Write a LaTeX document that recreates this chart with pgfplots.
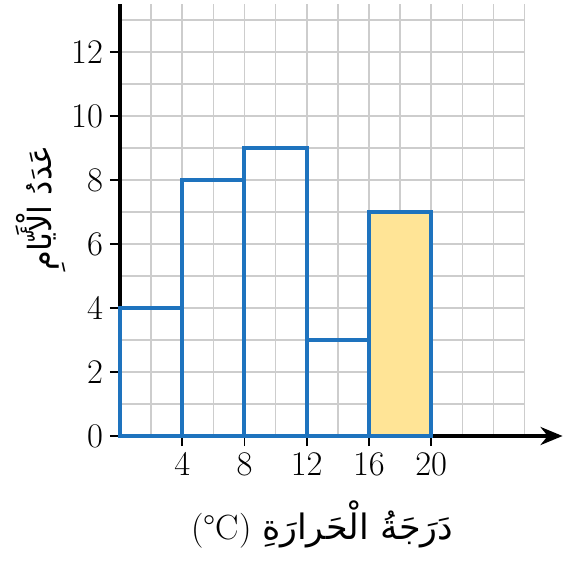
\documentclass[border=0pt]{standalone}
\usepackage{pgfplots}
\pgfplotsset{compat=1.18}
\usepackage{fontspec}
\usetikzlibrary{arrows.meta}
\TeXXeTstate=1
\newfontfamily\arabicfont[Script=Arabic]{DejaVu Sans}
\definecolor{barblue}{RGB}{30,115,190}
\definecolor{baryellow}{RGB}{255,228,150}
\definecolor{gridgray}{RGB}{205,205,205}
\begin{document}
\begin{tikzpicture}
\begin{axis}[
  anchor=origin, at={(0,0)},
  x=7.78pt, y=16pt,
  xmin=0, xmax=26, ymin=0, ymax=13.5,
  clip=false,
  axis x line*=bottom, axis y line*=left,
  x axis line style={line width=1.7pt, -{Stealth[length=11pt,width=9pt]}, shorten >=-19pt},
  y axis line style={line width=1.7pt},
  xtick={4,8,12,16,20}, ytick={0,2,...,12},
  minor xtick={0,2,...,26}, minor ytick={0,1,...,13},
  grid=minor, minor grid style={gridgray, line width=0.8pt},
  minor tick length=0pt,
  major tick length=5pt,
  tick align=outside,
  tick style={black, line width=0.8pt},
  tick label style={font=\fontsize{16.5}{16.5}\selectfont},
  xlabel={\fontsize{17.5}{19}\selectfont (°C) {\arabicfont\beginR دَرَجَةُ الْحَرارَةِ\endR}},
  xlabel style={yshift=-6pt},
  ylabel={\fontsize{16}{18}\selectfont\arabicfont\beginR عَدَدُ الْأَيّامِ\endR},
  ylabel style={xshift=6pt, yshift=-4pt},
]
\addplot[ybar interval, fill=baryellow, draw=none] coordinates {(16,7) (20,7)};
\addplot[ybar interval, draw=barblue, line width=2pt, fill=none] coordinates {(0,4) (4,8) (8,9) (12,3) (16,7) (20,0)};
\end{axis}
\pgfresetboundingbox
\path[use as bounding box] (-60pt,-63.5pt) rectangle (224pt,218pt);
\end{tikzpicture}
\end{document}
